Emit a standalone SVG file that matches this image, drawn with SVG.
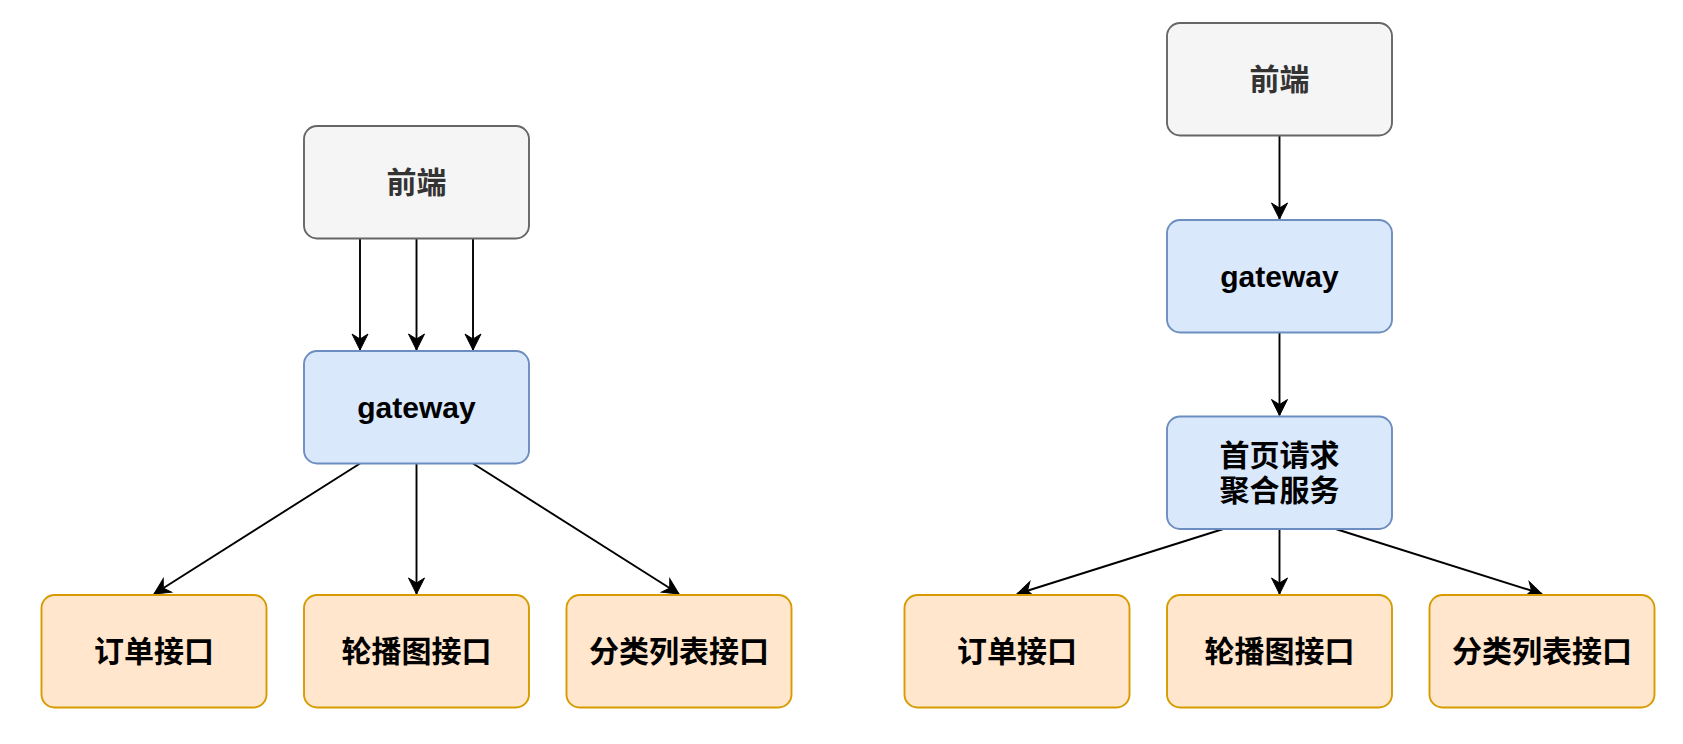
<svg xmlns="http://www.w3.org/2000/svg" width="1683" height="744" viewBox="0 0 1683 744">
<style>
.grey{fill:#f5f5f5;stroke:#666666;stroke-width:1.9}
.blue{fill:#dae8fc;stroke:#6c8ebf;stroke-width:1.9}
.orange{fill:#ffe6cc;stroke:#d79b00;stroke-width:1.9}
text{font-family:"Liberation Sans","Noto Sans CJK SC",sans-serif;font-weight:bold;font-size:30px;text-anchor:middle;dominant-baseline:central;fill:#000000}
.dark{fill:#333333}
.edge{stroke:#000000;stroke-width:1.9;fill:none}
</style>
<defs>
<marker id="arr" markerUnits="userSpaceOnUse" viewBox="-17 -9 18 18" refX="0" refY="0" markerWidth="18" markerHeight="18" orient="auto">
<path d="M0,0 L-16,-8 L-11,0 L-16,8 Z" fill="#000000" stroke="#000000" stroke-width="1"/>
</marker>
</defs>
<g id="connectors">
<line class="edge" x1="360" y1="238.5" x2="360" y2="350" marker-end="url(#arr)"/>
<line class="edge" x1="416.5" y1="238.5" x2="416.5" y2="350" marker-end="url(#arr)"/>
<line class="edge" x1="473" y1="238.5" x2="473" y2="350" marker-end="url(#arr)"/>
<line class="edge" x1="360" y1="463.5" x2="154" y2="594" marker-end="url(#arr)"/>
<line class="edge" x1="416.5" y1="463.5" x2="416.5" y2="594" marker-end="url(#arr)"/>
<line class="edge" x1="473" y1="463.5" x2="679" y2="594" marker-end="url(#arr)"/>
<line class="edge" x1="1279.5" y1="135.5" x2="1279.5" y2="219" marker-end="url(#arr)"/>
<line class="edge" x1="1279.5" y1="332.5" x2="1279.5" y2="415.5" marker-end="url(#arr)"/>
<line class="edge" x1="1223.25" y1="529" x2="1017" y2="594" marker-end="url(#arr)"/>
<line class="edge" x1="1279.5" y1="529" x2="1279.5" y2="594" marker-end="url(#arr)"/>
<line class="edge" x1="1335.75" y1="529" x2="1542" y2="594" marker-end="url(#arr)"/>
</g>
<g id="left-frontend"><rect class="grey" x="304" y="126" width="225" height="112.5" rx="13"/><text class="dark" x="416.5" y="182.5">前端</text></g>
<g id="left-gateway"><rect class="blue" x="304" y="351" width="225" height="112.5" rx="13"/><text x="416.5" y="407.5">gateway</text></g>
<g id="left-order"><rect class="orange" x="41.5" y="595" width="225" height="112.5" rx="13"/><text x="154" y="651.5">订单接口</text></g>
<g id="left-carousel"><rect class="orange" x="304" y="595" width="225" height="112.5" rx="13"/><text x="416.5" y="651.5">轮播图接口</text></g>
<g id="left-category"><rect class="orange" x="566.5" y="595" width="225" height="112.5" rx="13"/><text x="679" y="651.5">分类列表接口</text></g>
<g id="right-frontend"><rect class="grey" x="1167" y="23" width="225" height="112.5" rx="13"/><text class="dark" x="1279.5" y="79.5">前端</text></g>
<g id="right-gateway"><rect class="blue" x="1167" y="220" width="225" height="112.5" rx="13"/><text x="1279.5" y="276.5">gateway</text></g>
<g id="right-aggregate"><rect class="blue" x="1167" y="416.5" width="225" height="112.5" rx="13"/><text x="1279.5" y="455">首页请求</text><text x="1279.5" y="490">聚合服务</text></g>
<g id="right-order"><rect class="orange" x="904.5" y="595" width="225" height="112.5" rx="13"/><text x="1017" y="651.5">订单接口</text></g>
<g id="right-carousel"><rect class="orange" x="1167" y="595" width="225" height="112.5" rx="13"/><text x="1279.5" y="651.5">轮播图接口</text></g>
<g id="right-category"><rect class="orange" x="1429.5" y="595" width="225" height="112.5" rx="13"/><text x="1542" y="651.5">分类列表接口</text></g>
</svg>
